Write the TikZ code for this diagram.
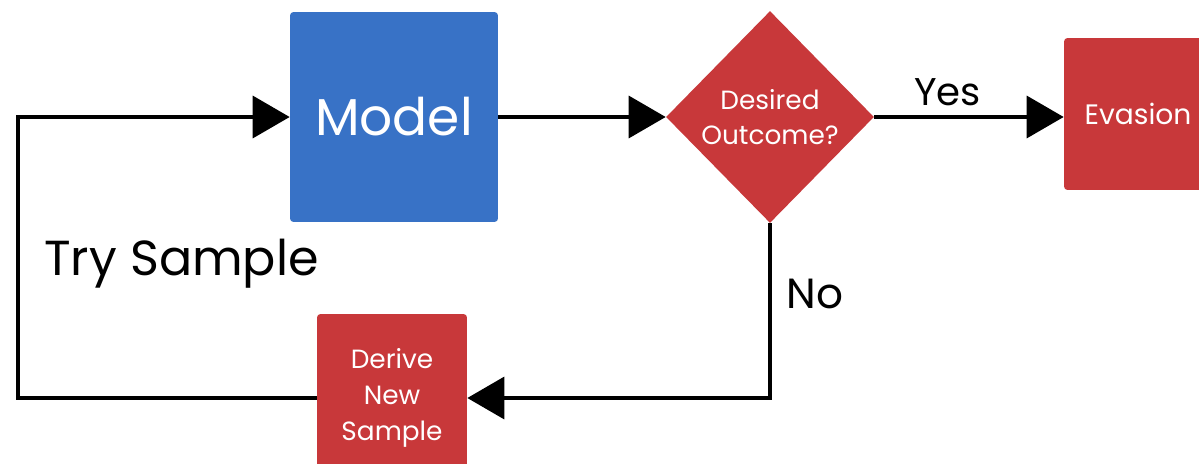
\documentclass[tikz,border=0pt]{standalone}
\usepackage{fontspec}
\setmainfont{Poppins}
\usetikzlibrary{arrows.meta,shapes.geometric}
\definecolor{mblue}{RGB}{56,114,198}
\definecolor{mred}{RGB}{200,56,58}
\begin{document}
\begin{tikzpicture}[x=0.02cm,y=-0.02cm,
  box/.style={rounded corners=2pt, draw=none, inner sep=0pt, text=white, align=center},
  conn/.style={line width=2pt, -{Triangle[length=0.74cm,width=0.84cm]}},
  lbl/.style={inner sep=0pt, anchor=base west, text=black}]
\useasboundingbox (0,0) rectangle (1199,463);
\fill[white] (0,0) rectangle (1199,463);
\node[box, fill=mblue, minimum width=4.16cm, minimum height=4.2cm, font=\fontsize{29.5}{34}\selectfont] (model) at (394,117) {Model};
\node[diamond, fill=mred, draw=none, inner sep=0pt, minimum width=4.16cm, minimum height=4.24cm] (dia) at (770,117) {};
\node[text=white, align=center, font=\fontsize{15}{20}\selectfont] (diatext) at (dia.center) {Desired\\Outcome?};
\node[box, fill=mred, minimum width=2.96cm, minimum height=3.04cm, font=\fontsize{16}{20}\selectfont] (eva) at (1138,114) {Evasion};
\node[box, fill=mred, minimum width=3cm, minimum height=3.36cm, font=\fontsize{15}{20.5}\selectfont] (der) at (392,398) {Derive\\New\\Sample};
\coordinate (lb) at (18,398);
\coordinate (lt) at (18,117);
\draw[conn] (model.east) -- (dia.west);
\draw[conn] (dia.east) -- (dia.east -| eva.west);
\draw[conn] (dia.south) |- (der.east);
\draw[conn] (der.west) -- (lb) -- (lt) -- (model.west);
\node[lbl, font=\fontsize{22}{26}\selectfont] (yes) at (914,105) {Yes};
\node[lbl, font=\fontsize{24}{28}\selectfont] (no) at (786,308) {No};
\node[lbl, font=\fontsize{28}{32}\selectfont] (try) at (44,275) {Try Sample};
\end{tikzpicture}
\end{document}
